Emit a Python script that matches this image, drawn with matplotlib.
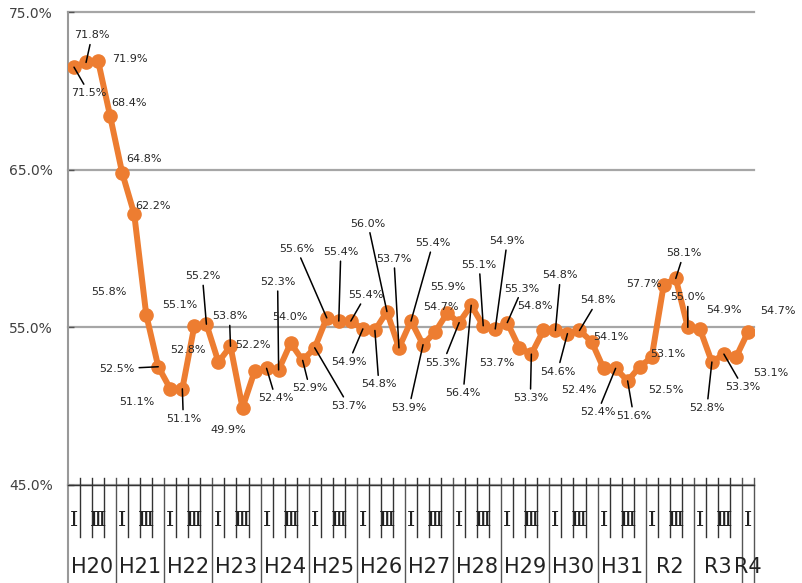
import matplotlib
matplotlib.use("Agg")
import matplotlib.pyplot as plt
import matplotlib.transforms as mtransforms

plt.rcParams['font.family'] = ['DejaVu Sans', 'Noto Sans CJK JP']

# 四半期ごとの値 (%)
years = ["H20", "H21", "H22", "H23", "H24", "H25", "H26", "H27", "H28",
         "H29", "H30", "H31", "R2", "R3", "R4"]
quarter_marks = ["Ⅰ", "", "Ⅲ", ""]
values = [71.5, 71.8, 71.9, 68.4,
          64.8, 62.2, 55.8, 52.5,
          51.1, 51.1, 55.1, 55.2,
          52.8, 53.8, 49.9, 52.2,
          52.4, 52.3, 54.0, 52.9,
          53.7, 55.6, 55.4, 55.4,
          54.9, 54.8, 56.0, 53.7,
          55.4, 53.9, 54.7, 55.9,
          55.3, 56.4, 55.1, 54.9,
          55.3, 53.7, 53.3, 54.8,
          54.8, 54.6, 54.8, 54.1,
          52.4, 52.4, 51.6, 52.5,
          53.1, 57.7, 58.1, 55.0,
          54.9, 52.8, 53.3, 53.1,
          54.7]
y_ticks = [45, 55, 65, 75]

# ラベル位置 (点からのずれ, px) と引き出し線の有無
label_offsets = [(15, -26), (6, 27), (32, 2), (19, 13), (22, 14), (19, 8),
                 (-37, 23), (-41, -2), (-33, -13), (1, -30), (-15, 21),
                 (-4, 48), (-31, 12), (-1, 30), (-14, -22), (-2, 26),
                 (9, -30), (-1, 88), (-1, 26), (7, -28), (34, -58),
                 (-30, 69), (2, 69), (15, 26), (-14, -33), (4, -54),
                 (-19, 88), (-5, 89), (22, 78), (-14, -63), (6, 25),
                 (1, 26), (-16, -40), (-8, -88), (-4, 61), (12, 88),
                 (15, 34), (-22, -15), (-1, -44), (-8, 24), (5, 55),
                 (-10, -38), (18, 30), (19, 5), (-25, -22), (-18, -44),
                 (6, -35), (26, -23), (16, 3), (-20, 1), (8, 25), (0, 30),
                 (24, 19), (-5, -46), (19, -33), (35, -16), (30, 21)]
leaders = {0, 1, 7, 9, 11, 13, 16, 17, 19, 20, 21, 22, 23, 24, 25, 26, 27,
           28, 29, 32, 33, 34, 35, 36, 38, 40, 41, 42, 45, 46, 50, 51, 53, 54}

W, H = 803, 583
fig = plt.figure(figsize=(W / 100, H / 100), dpi=100)
ax = fig.add_axes([68 / W, 1 - 485 / H, 686 / W, 473 / H])

x = list(range(len(values)))
ax.plot(x, values, color="#ED7D31", lw=4.3, marker="o", ms=9.5,
        solid_capstyle="round", zorder=3)

ax.set_xlim(-0.5, len(values) - 0.5)
ax.set_ylim(45, 75)
ax.set_yticks(y_ticks)
ax.set_yticklabels([f"{v:.1f}%" for v in y_ticks], fontsize=10, color="#404040")
ax.tick_params(axis="y", direction="in", length=4, width=1, color="#555555", pad=11)
ax.set_xticks([])
ax.grid(axis="y", color="#a6a6a6", lw=1.6)
for gl in ax.get_ygridlines():
    gl.set_clip_on(False)
ax.set_axisbelow(True)

for s in ["top", "right"]:
    ax.spines[s].set_visible(False)
ax.spines["left"].set_color("#999999")
ax.spines["left"].set_linewidth(1.5)
ax.spines["bottom"].set_color("#333333")
ax.spines["bottom"].set_linewidth(1.0)

# データラベル
for i, v in enumerate(values):
    dx, dy = label_offsets[i]
    kw = {}
    if i in leaders:
        kw["arrowprops"] = dict(arrowstyle="-", color="black", lw=1.1,
                                shrinkA=1, shrinkB=0)
    ax.annotate(f"{v:.1f}%", xy=(i, v), xytext=(dx, dy), textcoords="offset pixels",
                ha="center", va="center", fontsize=8, color="#262626", zorder=4, **kw)

# 区分軸 (四半期・年度)
tr = mtransforms.blended_transform_factory(ax.transData, fig.transFigure)
def fy(py):
    return 1 - py / H

n = len(values)
for k in range(1, n + 1):
    xb = k - 0.5
    if k % 4 == 0 or k == n:
        ax.plot([xb, xb], [fy(478), fy(H)], color="#555555", lw=1,
                transform=tr, clip_on=False)
    else:
        ax.plot([xb, xb], [fy(478), fy(537)], color="#333333", lw=1,
                transform=tr, clip_on=False)
ax.plot([-0.5, -0.5], [fy(485), fy(H)], color="#999999", lw=1.5,
        transform=tr, clip_on=False)

for i in range(n):
    q = quarter_marks[i % 4]
    if q:
        ax.text(i, fy(520), q, transform=tr, ha="center", va="center",
                fontsize=15, color="#222222", family=["DejaVu Serif", "DejaVu Sans"])

for j, yr in enumerate(years):
    start = 4 * j
    end = min(4 * j + 4, n)
    xc = (start + end - 1) / 2
    ax.text(xc, fy(567), yr, transform=tr, ha="center", va="center",
            fontsize=15, color="#222222")

fig.savefig("out.png", dpi=100)
